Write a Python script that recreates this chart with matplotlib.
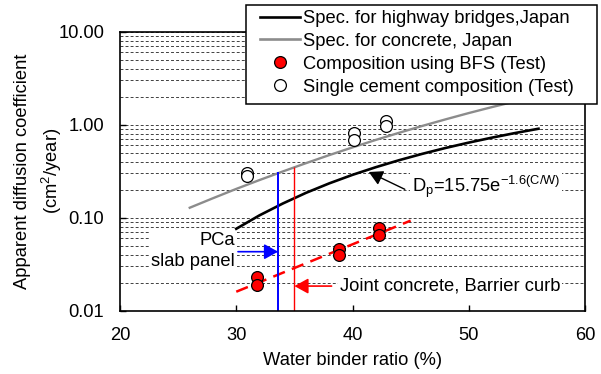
import matplotlib
matplotlib.use("Agg")
import matplotlib.pyplot as plt
from matplotlib.lines import Line2D
from matplotlib.patches import Rectangle

plt.rcParams['font.family'] = ['Liberation Sans', 'DejaVu Sans']
plt.rcParams['font.size'] = 13.2

# chart data
wb_highway = [30, 32, 34, 36, 38, 40, 42, 44, 46, 48, 50, 52, 54, 56]
dp_highway = [0.076, 0.106, 0.142, 0.185, 0.234, 0.289, 0.349, 0.415,
              0.486, 0.562, 0.642, 0.726, 0.814, 0.905]

wb_concrete = [26, 28, 30, 32, 34, 36, 38, 40, 42, 44, 46, 48, 50, 52, 54, 56]
dp_concrete = [0.128, 0.162, 0.204, 0.254, 0.314, 0.386, 0.471, 0.570,
               0.686, 0.818, 0.970, 1.141, 1.334, 1.547, 1.781, 2.037]

bfs_x = [31.8, 31.8, 38.8, 38.8, 42.3, 42.3]
bfs_y = [0.023, 0.019, 0.046, 0.040, 0.077, 0.065]

single_x = [30.9, 30.9, 40.1, 40.1, 42.9, 42.9]
single_y = [0.30, 0.28, 0.82, 0.69, 1.10, 0.97]

bfs_trend_x = [30.0, 45.0]
bfs_trend_y = [0.016, 0.093]

pca_wb, pca_top = 33.6, 0.31
joint_wb, joint_top = 35.0, 0.35

fig = plt.figure(figsize=(6.01, 3.74), dpi=100)
ax = fig.add_axes([120 / 601, 1 - 310.7 / 374, 465 / 601, 279 / 374])

ax.set_yscale('log')
ax.set_xlim(20, 60)
ax.set_ylim(0.01, 10)
ax.set_xticks([20, 30, 40, 50, 60])
ax.set_yticks([0.01, 0.1, 1, 10])
ax.set_yticklabels(['0.01', '0.10', '1.00', '10.00'])
ax.yaxis.set_minor_formatter(plt.NullFormatter())
ax.tick_params(which='major', direction='in', length=4, width=1, pad=11.5)
ax.tick_params(which='minor', length=0)
for s in ax.spines.values():
    s.set_linewidth(1.2)

ax.set_axisbelow(True)
ax.grid(True, axis='y', which='both', color='#404040', lw=0.7,
        linestyle=(0, (3, 2.2)))

# spec curves
ax.plot(wb_concrete, dp_concrete, color='#8c8c8c', lw=1.7, zorder=2)
ax.plot(wb_highway, dp_highway, color='black', lw=1.9, zorder=2)

# trend of BFS composition
ax.plot(bfs_trend_x, bfs_trend_y, color='red', lw=1.8,
        linestyle=(0, (5, 3)), zorder=2)

# vertical markers
ax.vlines(pca_wb, 0.01, pca_top, color='#0000ff', lw=1.4, zorder=2)
ax.vlines(joint_wb, 0.01, joint_top, color='red', lw=1.0, zorder=2)

ax.plot(single_x, single_y, 'o', ms=8.5, mfc='white', mec='black',
        mew=0.9, zorder=4)
ax.plot(bfs_x, bfs_y, 'o', ms=8.5, mfc='red', mec='black',
        mew=0.9, zorder=4)

box = dict(facecolor='white', edgecolor='none', pad=1.5)
arrow = '-|>,head_length=0.4,head_width=0.22'

ax.text(29.9, 0.0438, 'PCa\nslab panel', ha='right', va='center',
        multialignment='right', linespacing=1.27, bbox=box, zorder=1)
ax.annotate('', xy=(pca_wb, 0.0431), xytext=(30.15, 0.0431),
            arrowprops=dict(arrowstyle=arrow, color='#0000ff', lw=1.2,
                            mutation_scale=21, shrinkA=0, shrinkB=0))

ax.text(38.9, 0.0184, 'Joint concrete, Barrier curb', ha='left',
        va='center', bbox=box, zorder=1)
ax.annotate('', xy=(joint_wb, 0.0184), xytext=(38.2, 0.0184),
            arrowprops=dict(arrowstyle=arrow, color='red', lw=1.2,
                            mutation_scale=21, shrinkA=0, shrinkB=0))

ax.text(45.1, 0.19, r'D$_\mathregular{p}$=15.75e$^\mathregular{-1.6(C/W)}$',
        ha='left', va='baseline', bbox=box, zorder=1)
ax.annotate('', xy=(41.4, 0.31), xytext=(44.5, 0.202),
            arrowprops=dict(arrowstyle=arrow, color='black', lw=1.0,
                            mutation_scale=21, shrinkA=0, shrinkB=0))

ax.set_xlabel('Water binder ratio (%)', labelpad=6)
fig.text(39 / 601, 1 - 171 / 374,
         'Apparent diffusion coefficient\n(cm$^\\mathregular{2}$/year)',
         rotation=90, ha='center', va='center', linespacing=1.45)

# legend box drawn by hand so the padding matches the original
fig.add_artist(Rectangle((246 / 601, 1 - 104 / 374), 351 / 601, 99 / 374,
                         transform=fig.transFigure, facecolor='white',
                         edgecolor='black', lw=1.1, zorder=3))

handles = [
    Line2D([], [], color='black', lw=1.9),
    Line2D([], [], color='#8c8c8c', lw=1.9),
    Line2D([], [], ls='none', marker='o', ms=8.5, mfc='red', mec='black', mew=0.9),
    Line2D([], [], ls='none', marker='o', ms=8.5, mfc='white', mec='black', mew=0.9),
]
labels = ['Spec. for highway bridges,Japan', 'Spec. for concrete, Japan',
          'Composition using BFS (Test)', 'Single cement composition (Test)']
leg = fig.legend(handles, labels, loc='upper left',
                 bbox_to_anchor=(260 / 601, 1 - 10 / 374), borderaxespad=0,
                 frameon=False, borderpad=0, labelspacing=0.32,
                 handlelength=2.18, handletextpad=0.16)
leg.set_zorder(4)

fig.savefig('out.png', dpi=100)
